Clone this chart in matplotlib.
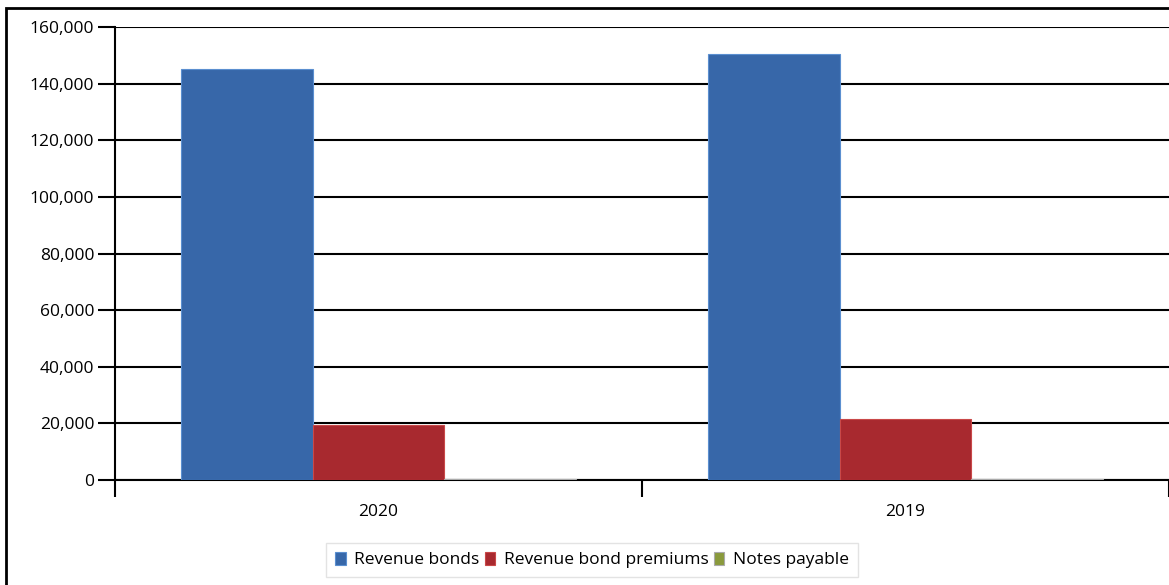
import numpy as np
import matplotlib.pyplot as plt
from matplotlib.patches import Rectangle

years = ["2020", "2019"]
revenue_bonds = [145000, 150500]
bond_premiums = [19300, 21400]
notes_payable = [500, 400]
series_names = ["Revenue bonds", "Revenue bond premiums", "Notes payable"]
colors = ["#3767a9", "#a8292f", "#8a9a3c"]

plt.rcParams['font.family'] = ['Open Sans', 'DejaVu Sans']

fig = plt.figure(figsize=(11.69, 5.85), dpi=100)
ax = fig.add_axes([115/1169, 105/585, 1 - 115/1169, (480-27)/585])

x = np.arange(len(years))
w = 0.25
ax.bar(x - w, revenue_bonds, w, color=colors[0], edgecolor="#5b8fd0", linewidth=0.8, label=series_names[0], zorder=3)
ax.bar(x, bond_premiums, w, color=colors[1], edgecolor="#c94848", linewidth=0.8, label=series_names[1], zorder=3)
ax.bar(x + w, notes_payable, w, color=colors[2], edgecolor="#aaaaaa", linewidth=0.8, label=series_names[2], zorder=3)

ax.set_xlim(-0.5, 1.5)
ax.set_ylim(0, 160000)
ax.set_yticks(np.arange(0, 160001, 20000))
ax.set_yticklabels([f"{v:,}" for v in range(0, 160001, 20000)], fontsize=12.5)
ax.yaxis.grid(True, color="black", linewidth=1.5, zorder=0)
ax.tick_params(axis="y", length=12, width=1.5, pad=3)

ax.set_xticks(x)
ax.set_xticklabels(years, fontsize=12.5)
ax.tick_params(axis="x", length=0, pad=17)
ax.set_xticks([-0.5, 0.5, 1.5], minor=True)
ax.tick_params(axis="x", which="minor", length=12, width=1.5, direction="out")

for s in ["top", "right"]:
    ax.spines[s].set_visible(False)
ax.spines["left"].set_linewidth(1.5)
ax.spines["bottom"].set_linewidth(1.5)

leg = fig.legend(loc="center", bbox_to_anchor=(592/1169, 1 - 560/585), ncol=3, fontsize=12.5,
                 frameon=True, fancybox=False, edgecolor="#dddddd", handlelength=0.6,
                 handleheight=0.8, handletextpad=0.5, columnspacing=0.3, borderpad=0.5)

# outer frame (top and left edges visible)
fig.patches.append(Rectangle((6/1169, -0.1), 1.2, 1 - 8/585 + 0.1, transform=fig.transFigure,
                             fill=False, edgecolor="black", linewidth=2.0))

fig.savefig("out.png", dpi=100)
